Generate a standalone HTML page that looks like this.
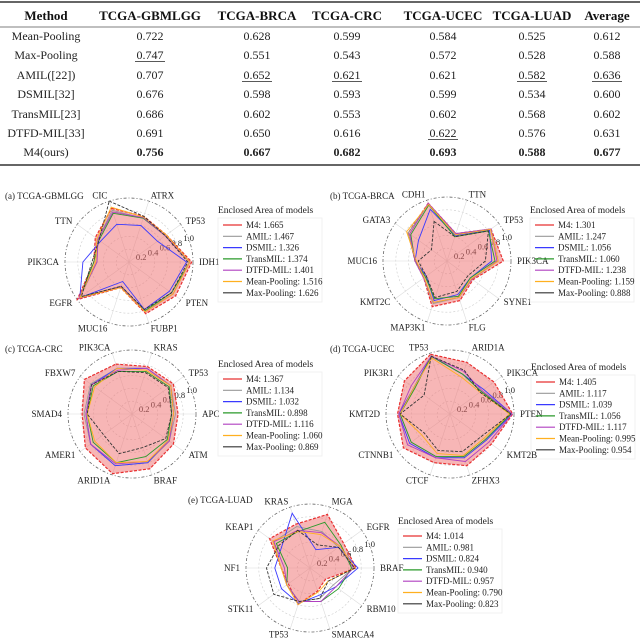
<!DOCTYPE html>
<html><head><meta charset="utf-8"><style>
body{margin:0;background:#fff}
svg{display:block;font-family:"Liberation Serif",serif}
</style></head><body>
<svg id="fig" width="640" height="639" viewBox="0 0 640 639">
<g id="table"></g>
<g id="charts"></g>
</svg>
<script>
// ---------- table data ----------
const tblHeaders = ["Method","TCGA-GBMLGG","TCGA-BRCA","TCGA-CRC","TCGA-UCEC","TCGA-LUAD","Average"];
const tblMethods = ["Mean-Pooling","Max-Pooling","AMIL([22])","DSMIL[32]","TransMIL[23]","DTFD-MIL[33]","M4(ours)"];
const tblValues = [
 ["0.722","0.628","0.599","0.584","0.525","0.612"],
 ["0.747","0.551","0.543","0.572","0.528","0.588"],
 ["0.707","0.652","0.621","0.621","0.582","0.636"],
 ["0.676","0.598","0.593","0.599","0.534","0.600"],
 ["0.686","0.602","0.553","0.602","0.568","0.602"],
 ["0.691","0.650","0.616","0.622","0.576","0.631"],
 ["0.756","0.667","0.682","0.693","0.588","0.677"]];
const tblUnderline = [[1,0],[2,1],[2,2],[2,4],[2,5],[5,3]];

// ---------- chart data ----------
const seriesNames = ["M4","AMIL","DSMIL","TransMIL","DTFD-MIL","Mean-Pooling","Max-Pooling"];
const tickLabels = ["0.2","0.4","0.6","0.8","1.0"];

const gbmAxes = ["CIC","ATRX","TP53","IDH1","PTEN","FUBP1","MUC16","EGFR","PIK3CA","TTN"];
const gbmM4    = [.88,.75,.72,.98,.90,.85,.42,1.0,.55,.65];
const gbmAMIL  = [.85,.72,.70,.95,.85,.80,.40,.95,.50,.60];
const gbmDSMIL = [.62,.60,.55,.90,.78,.78,.32,.95,.72,.55];
const gbmTrans = [.80,.72,.70,.95,.82,.80,.40,.95,.55,.58];
const gbmDTFD  = [.82,.73,.70,.95,.85,.82,.40,.97,.50,.60];
const gbmMean  = [.90,.74,.72,.95,.85,.82,.42,.95,.52,.62];
const gbmMax   = [1.0,.75,.70,.92,.82,.78,.40,.92,.58,.58];
const gbmArea  = ["1.665","1.467","1.326","1.374","1.401","1.516","1.626"];

const brcaAxes = ["CDH1","TTN","TP53","PIK3CA","SYNE1","FLG","MAP3K1","KMT2C","MUC16","GATA3"];
const brcaM4    = [.95,.45,.85,.88,.50,.65,.75,.45,.50,.75];
const brcaAMIL  = [.93,.45,.85,.80,.48,.60,.70,.45,.50,.75];
const brcaDSMIL = [.85,.42,.82,.70,.45,.55,.65,.40,.50,.55];
const brcaTrans = [.92,.40,.80,.75,.45,.58,.62,.42,.50,.70];
const brcaDTFD  = [.95,.45,.85,.78,.48,.60,.68,.45,.50,.72];
const brcaMean  = [.93,.43,.84,.80,.47,.60,.68,.44,.48,.78];
const brcaMax   = [.65,.40,.80,.60,.40,.50,.60,.40,.45,.30];
const brcaArea  = ["1.301","1.247","1.056","1.060","1.238","1.159","0.888"];

const crcAxes = ["PIK3CA","KRAS","TP53","APC","ATM","BRAF","ARID1A","AMER1","SMAD4","FBXW7"];
const crcM4    = [.82,.78,.80,.72,.80,.90,.98,.90,.78,.92];
const crcAMIL  = [.75,.75,.75,.68,.72,.80,.85,.80,.75,.80];
const crcDSMIL = [.75,.75,.75,.65,.70,.80,.85,.80,.72,.78];
const crcTrans = [.70,.70,.72,.62,.68,.70,.80,.75,.70,.75];
const crcDTFD  = [.72,.75,.75,.65,.72,.78,.82,.80,.72,.78];
const crcMean  = [.75,.72,.75,.65,.70,.78,.80,.72,.70,.72];
const crcMax   = [.70,.68,.70,.62,.65,.55,.65,.55,.70,.78];
const crcArea  = ["1.367","1.134","1.032","0.898","1.116","1.060","0.869"];

const ucecAxes = ["TP53","ARID1A","PIK3CA","PTEN","KMT2B","ZFHX3","CTCF","CTNNB1","KMT2D","PIK3R1"];
const ucecM4    = [.98,.85,.85,.98,.80,.85,.80,.90,.82,.88];
const ucecAMIL  = [.95,.65,.60,.95,.70,.72,.70,.75,.78,.70];
const ucecDSMIL = [.95,.65,.65,.97,.70,.72,.72,.78,.80,.70];
const ucecTrans = [.95,.65,.60,.95,.68,.70,.70,.75,.78,.68];
const ucecDTFD  = [.95,.70,.62,.97,.75,.78,.72,.82,.80,.75];
const ucecMean  = [.92,.60,.58,.93,.65,.68,.65,.55,.78,.70];
const ucecMax   = [.95,.72,.58,.95,.60,.62,.60,.50,.78,.50];
const ucecArea  = ["1.405","1.117","1.039","1.056","1.117","0.995","0.954"];

const luadAxes = ["KRAS","MGA","EGFR","BRAF","RBM10","SMARCA4","TP53","STK11","NF1","KEAP1"];
const luadM4    = [.72,.88,.65,.72,.30,.38,.60,.42,.45,.78];
const luadAMIL  = [.68,.60,.55,.68,.45,.50,.55,.45,.45,.70];
const luadDSMIL = [.90,.30,.55,.75,.50,.45,.58,.55,.55,.55];
const luadTrans = [.60,.75,.60,.65,.55,.55,.55,.45,.35,.65];
const luadDTFD  = [.62,.58,.58,.68,.50,.55,.55,.45,.40,.70];
const luadMean  = [.60,.55,.58,.70,.35,.40,.60,.45,.45,.72];
const luadMax   = [.62,.38,.55,.70,.35,.50,.55,.70,.68,.60];
const luadArea  = ["1.014","0.981","0.824","0.940","0.957","0.790","0.823"];

const NS="http://www.w3.org/2000/svg";
function mk(tag,attrs,parent,txt){const e=document.createElementNS(NS,tag);for(const k in attrs)e.setAttribute(k,attrs[k]);if(txt!==undefined)e.textContent=txt;parent.appendChild(e);return e;}

// ---------- table ----------
const T=document.getElementById('table');
const colX=[46,150,257,347,443,532,607];
const rowY=[40,59,79,98,118,137,156];
let ln;
ln=mk('line',{x1:0,y1:2,x2:640,y2:2,stroke:'#333','stroke-width':1.6},T);

ln=mk('line',{x1:0,y1:27,x2:640,y2:27,stroke:'#555','stroke-width':0.8},T);

ln=mk('line',{x1:0,y1:165,x2:640,y2:165,stroke:'#333','stroke-width':1.6},T);

tblHeaders.forEach((h,i)=>{
  const t=mk('text',{x:colX[i],y:20,'text-anchor':'middle','font-size':13,'font-weight':'bold',fill:'#111'},T,h);
  
  
});
tblMethods.forEach((m,r)=>{
  const t=mk('text',{x:colX[0],y:rowY[r],'text-anchor':'middle','font-size':12,fill:'#222'},T,m);
  
  
  tblValues[r].forEach((v,c)=>{
    const bold=r===6;
    const tv=mk('text',{x:colX[c+1],y:rowY[r],'text-anchor':'middle','font-size':12,'font-weight':bold?'bold':'normal',fill:'#222'},T,v);
    
    
  });
});
tblUnderline.forEach(([r,c])=>{
  const u=mk('line',{x1:colX[c+1]-15,x2:colX[c+1]+15,y1:rowY[r]+2.5,y2:rowY[r]+2.5,stroke:'#222','stroke-width':0.8},T);
  
  
});

// ---------- radar ----------
const colors=['#e83030','#9a9a9a','#3a3aff','#2a9a2a','#b040c0','#ffb020','#333'];
const C=document.getElementById('charts');
const R=64;
function radar(cfg){
  const g=mk('g',{},C);
  
  
  const n=cfg.axes.length;
  const ang=i=>(-108+36*i)*Math.PI/180;
  const rs=v=>v*R;
  const px=(i,v)=>cfg.cx+rs(v)*Math.cos(ang(i));
  const py=(i,v)=>cfg.cy+rs(v)*Math.sin(ang(i));
  [0.2,0.4,0.6,0.8,1.0].forEach((v,k)=>{
    const c=mk('circle',{cx:cfg.cx,cy:cfg.cy,r:rs(v),fill:'none',stroke:k===4?'#666':'#ccc','stroke-width':k===4?0.8:0.6,'stroke-dasharray':k===4?'3,2,1,2':'2,2'},g);
    
    
  });
  for(let i=0;i<n;i++){
    const s=mk('line',{x1:cfg.cx,y1:cfg.cy,x2:px(i,1),y2:py(i,1),stroke:'#ddd','stroke-width':0.6},g);
    
    
    const a=ang(i),lx=cfg.cx+(R+6)*Math.cos(a),ly=cfg.cy+(R+6)*Math.sin(a)+3;
    const ca=Math.cos(a);
    const anchor=Math.abs(ca)<0.35?(ca<0?'end':'start'):(ca>0?'start':'end');
    const lab=mk('text',{x:lx,y:ly,'text-anchor':anchor,'font-size':9,fill:'#222'},g,cfg.axes[i]);
    
    
  }
  tickLabels.forEach((t,k)=>{
    const v=parseFloat(t),a=-22*Math.PI/180;
    const tl=mk('text',{x:cfg.cx+rs(v)*Math.cos(a)-5,y:cfg.cy+rs(v)*Math.sin(a)+3,'font-size':8.5,fill:'#222'},g,t);
    
    
  });
  const order=[0,1,2,3,4,5,6];
  order.forEach(si=>{
    const vals=cfg.series[si];
    const pts=vals.map((v,i)=>px(i,v).toFixed(1)+','+py(i,v).toFixed(1)).join(' ');
    const p=mk('polygon',{points:pts,fill:si===0?'rgba(240,110,110,0.5)':'none',stroke:colors[si],'stroke-width':si===0?1.2:0.9,'stroke-dasharray':(si===0||si===6)?'3,1.5':'none'},g);
    
    
  });
  const tt=mk('text',{x:cfg.tx,y:cfg.ty,'font-size':9,fill:'#222'},g,cfg.title);
  
  
  const lg=mk('g',{},g);
  
  
  const lt=mk('text',{x:cfg.lx,y:cfg.ly,'font-size':9.5,fill:'#222'},lg,'Enclosed Area of models');
  
  
  const box=mk('rect',{x:cfg.lx,y:cfg.ly+5,width:104,height:84,fill:'none',stroke:'#eee','stroke-width':0.8},lg);
  
  
  seriesNames.forEach((nm,si)=>{
    const y=cfg.ly+15+si*11.3;
    const l=mk('line',{x1:cfg.lx+5,x2:cfg.lx+24,y1:y-3,y2:y-3,stroke:colors[si],'stroke-width':1.2},lg);
    
    
    const et=mk('text',{x:cfg.lx+28,y:y,'font-size':9,fill:'#222'},lg,nm+': '+cfg.area[si]);
    
    
  });
}
radar({name:'radar-gbmlgg',title:'(a) TCGA-GBMLGG',tx:5,ty:199,cx:129,cy:262,lx:218,ly:213,axes:gbmAxes,area:gbmArea,
  series:[gbmM4,gbmAMIL,gbmDSMIL,gbmTrans,gbmDTFD,gbmMean,gbmMax]});
radar({name:'radar-brca',title:'(b) TCGA-BRCA',tx:330,ty:199,cx:447,cy:261,lx:530,ly:213,axes:brcaAxes,area:brcaArea,
  series:[brcaM4,brcaAMIL,brcaDSMIL,brcaTrans,brcaDTFD,brcaMean,brcaMax]});
radar({name:'radar-crc',title:'(c) TCGA-CRC',tx:5,ty:352,cx:132,cy:414,lx:218,ly:367,axes:crcAxes,area:crcArea,
  series:[crcM4,crcAMIL,crcDSMIL,crcTrans,crcDTFD,crcMean,crcMax]});
radar({name:'radar-ucec',title:'(d) TCGA-UCEC',tx:330,ty:352,cx:450,cy:414,lx:531,ly:370,axes:ucecAxes,area:ucecArea,
  series:[ucecM4,ucecAMIL,ucecDSMIL,ucecTrans,ucecDTFD,ucecMean,ucecMax]});
radar({name:'radar-luad',title:'(e) TCGA-LUAD',tx:188,ty:503,cx:310,cy:568,lx:398,ly:524,axes:luadAxes,area:luadArea,
  series:[luadM4,luadAMIL,luadDSMIL,luadTrans,luadDTFD,luadMean,luadMax]});
</script>
</body></html>
